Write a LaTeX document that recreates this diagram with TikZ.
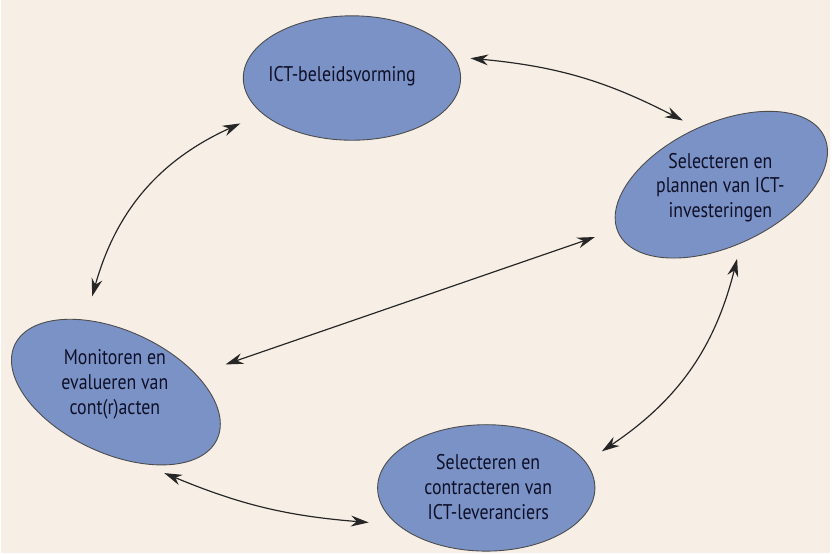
\documentclass[tikz,border=0pt]{standalone}
\usepackage{fontspec}
\setmainfont[FakeStretch=0.84]{PT Sans}
\usetikzlibrary{shapes.geometric,arrows.meta}
\definecolor{achtergrond}{RGB}{247,239,230}
\definecolor{fasekleur}{RGB}{122,146,197}
\definecolor{tekstkleur}{RGB}{15,15,40}

\begin{document}
\begin{tikzpicture}[x=1pt,y=1pt,
	fase/.style={ellipse,draw=black!70,line width=0.9pt,fill=fasekleur,inner sep=0pt},
	tekst/.style={align=center,text=tekstkleur,font=\fontsize{21.5}{25}\selectfont},
	pijl/.style={{Stealth[length=18pt,width=11pt]}-{Stealth[length=18pt,width=11pt]},line width=1.2pt,black!85}]
	\fill[achtergrond] (0,0) rectangle (839,560);
	% de vier fasen
	\node[fase,minimum width=220pt,minimum height=126pt](B) at (355,481){};
	\node[fase,minimum width=230pt,minimum height=124pt,rotate=25](P) at (729,373){};
	\node[fase,minimum width=226pt,minimum height=124pt,rotate=-25](M) at (116,163){};
	\node[fase,minimum width=220pt,minimum height=128pt](C) at (491,66){};
	\node[tekst](Bt) at (345,483){ICT-beleidsvorming};
	\node[tekst](Pt) at (728,370){Selecteren en\\plannen van ICT-\\investeringen};
	\node[tekst](Mt) at (115,171){Monitoren en\\evalueren van\\cont(r)acten};
	\node[tekst](Ct) at (493,67){Selecteren en\\contracteren van\\ICT-leveranciers};
	% uiteinden van de pijlen
	\coordinate(b1) at (475,501); \coordinate(p1) at (690,438);
	\coordinate(p2) at (745,298); \coordinate(c1) at (608,103);
	\coordinate(c2) at (372,31);  \coordinate(m1) at (165,81);
	\coordinate(m2) at (92,260);  \coordinate(b2) at (242,435);
	\coordinate(p3) at (601,320); \coordinate(m3) at (227,191);
	\draw[pijl] (b1) to[bend left=11] (p1);
	\draw[pijl] (p2) to[bend left=21] (c1);
	\draw[pijl] (m1) to[bend right=9] (c2);
	\draw[pijl] (m2) to[bend left=25] (b2);
	\draw[pijl] (p3) -- (m3);
\end{tikzpicture}
\end{document}
